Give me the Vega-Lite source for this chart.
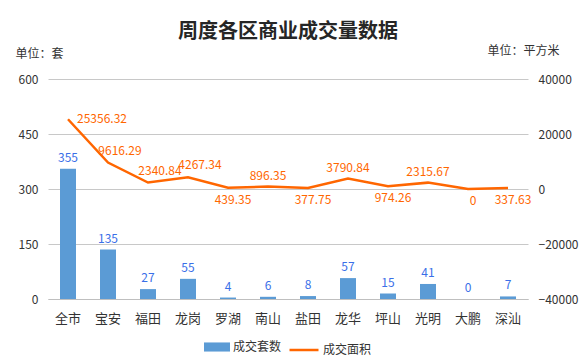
{
  "$schema": "https://vega.github.io/schema/vega-lite/v6.json",
  "width": 480,
  "height": 220,
  "autosize": "none",
  "padding": {"left": 48, "top": 79, "right": 56, "bottom": 59},
  "background": "white",
  "title": {"text": "周度各区商业成交量数据", "font": "Noto Sans CJK SC", "fontSize": 20, "fontWeight": "bold", "color": "#262626", "anchor": "middle", "offset": 2},
  "config": {"view": {"stroke": null}, "font": "Noto Sans CJK SC"},
  "data": {"values": [
    {"区": "全市", "套数": 355, "面积": 25356.32},
    {"区": "宝安", "套数": 135, "面积": 9616.29},
    {"区": "福田", "套数": 27, "面积": 2340.84},
    {"区": "龙岗", "套数": 55, "面积": 4267.34},
    {"区": "罗湖", "套数": 4, "面积": 439.35},
    {"区": "南山", "套数": 6, "面积": 896.35},
    {"区": "盐田", "套数": 8, "面积": 377.75},
    {"区": "龙华", "套数": 57, "面积": 3790.84},
    {"区": "坪山", "套数": 15, "面积": 974.26},
    {"区": "光明", "套数": 41, "面积": 2315.67},
    {"区": "大鹏", "套数": 0, "面积": 0},
    {"区": "深汕", "套数": 7, "面积": 337.63}
  ]},
  "encoding": {
    "x": {"field": "区", "type": "nominal", "sort": null,
      "scale": {"paddingInner": 0.6, "paddingOuter": 0.3},
      "axis": {"title": null, "labelAngle": 0, "ticks": false, "domainColor": "#BFBFBF", "labelPadding": 13, "labelFontSize": 13, "labelColor": "#333333"}}
  },
  "layer": [
    {
      "encoding": {
        "y": {"field": "套数", "type": "quantitative", "scale": {"domain": [0, 600]},
          "axis": {"values": [0, 150, 300, 450, 600], "grid": true, "gridColor": "#C8C8C8", "domain": false, "ticks": false, "labelPadding": 10, "labelFontSize": 12, "labelColor": "#333333",
            "title": "单位：套", "titleAngle": 0, "titleX": -33, "titleY": -26, "titleAlign": "left", "titleBaseline": "middle", "titleFontSize": 12, "titleFontWeight": "normal", "titleColor": "#333333"}}
      },
      "layer": [
        {"mark": {"type": "bar"},
          "encoding": {"fill": {"datum": "成交套数", "type": "nominal", "scale": {"range": ["#5B9BD5"]},
            "legend": {"title": null, "orient": "none", "legendX": 156, "legendY": 255, "padding": 0, "symbolType": "M-1,-0.35L1,-0.35L1,0.35L-1,0.35Z", "symbolSize": 676, "symbolStrokeWidth": 0, "labelOffset": 3, "labelFontSize": 12, "labelColor": "#333333"}}}},
        {"mark": {"type": "text", "baseline": "bottom", "dy": -4, "color": "#3A6FE8", "fontSize": 12},
          "encoding": {"text": {"field": "套数", "type": "nominal"}}}
      ]
    },
    {
      "encoding": {
        "y": {"field": "面积", "type": "quantitative", "scale": {"domain": [-40000, 40000]},
          "axis": {"orient": "right", "values": [-40000, -20000, 0, 20000, 40000], "format": "d", "grid": false, "domain": false, "ticks": false, "labelPadding": 10, "labelFontSize": 12, "labelColor": "#333333",
            "title": "单位：平方米", "titleAngle": 0, "titleX": -41, "titleY": -29, "titleAlign": "left", "titleBaseline": "middle", "titleFontSize": 12, "titleFontWeight": "normal", "titleColor": "#333333"}}
      },
      "layer": [
        {"mark": {"type": "line", "strokeWidth": 2.5},
          "encoding": {"stroke": {"datum": "成交面积", "type": "nominal", "scale": {"range": ["#FF6600"]},
            "legend": {"title": null, "orient": "none", "legendX": 240, "legendY": 255, "padding": 0, "symbolType": "M-1,0L1,0", "symbolSize": 841, "symbolStrokeWidth": 2.5, "labelOffset": 3, "labelFontSize": 12, "labelColor": "#333333"}}}},
        {"transform": [{"filter": {"field": "区", "oneOf": ["全市"]}}],
          "mark": {"type": "text", "align": "left", "baseline": "middle", "dx": 9, "color": "#FF6600", "fontSize": 12},
          "encoding": {"text": {"field": "面积", "type": "nominal"}}},
        {"transform": [{"filter": {"field": "区", "oneOf": ["宝安", "福田", "龙岗"]}}],
          "mark": {"type": "text", "align": "center", "baseline": "middle", "dx": 12, "dy": -12, "color": "#FF6600", "fontSize": 12},
          "encoding": {"text": {"field": "面积", "type": "nominal"}}},
        {"transform": [{"filter": {"field": "区", "oneOf": ["南山", "龙华", "光明"]}}],
          "mark": {"type": "text", "align": "center", "baseline": "middle", "dx": 0, "dy": -11, "color": "#FF6600", "fontSize": 12},
          "encoding": {"text": {"field": "面积", "type": "nominal"}}},
        {"transform": [{"filter": {"field": "区", "oneOf": ["罗湖", "盐田", "坪山", "大鹏", "深汕"]}}],
          "mark": {"type": "text", "align": "center", "baseline": "middle", "dx": 5, "dy": 12, "color": "#FF6600", "fontSize": 12},
          "encoding": {"text": {"field": "面积", "type": "nominal"}}}
      ]
    }
  ],
  "resolve": {"scale": {"y": "independent"}}
}
